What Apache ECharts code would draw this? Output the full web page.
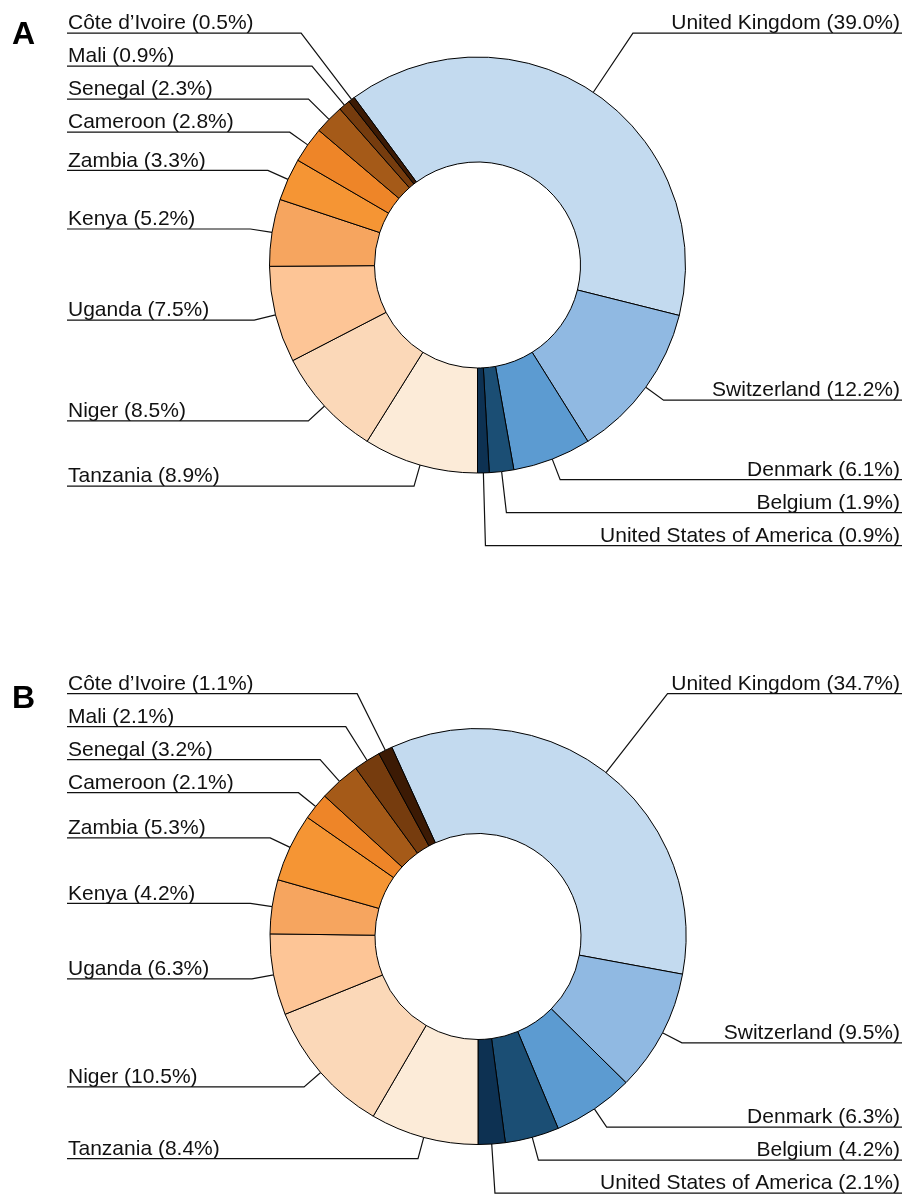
<!DOCTYPE html>
<html><head><meta charset="utf-8">
<script src="https://cdn.jsdelivr.net/npm/echarts@6/dist/echarts.min.js"></script>
<style>html,body{margin:0;padding:0;background:#fff}#c{width:904px;height:1204px}</style>
</head><body><div id="c"></div>
<script>
// Categories in clockwise order (first five: Europe / North America group)
const countries = ['United Kingdom', 'Switzerland', 'Denmark', 'Belgium', 'United States of America',
  'Tanzania', 'Niger', 'Uganda', 'Kenya', 'Zambia', 'Cameroon', 'Senegal', 'Mali', 'Côte d’Ivoire'];
const sharesA = [39.0, 12.2, 6.1, 1.9, 0.9, 8.9, 8.5, 7.5, 5.2, 3.3, 2.8, 2.3, 0.9, 0.5];
const sharesB = [34.7, 9.5, 6.3, 4.2, 2.1, 8.4, 10.5, 6.3, 4.2, 5.3, 2.1, 3.2, 2.1, 1.1];
const northGroupSize = 5;
const panelLetters = ['A', 'B'];
const sliceColors = ['#c3daef', '#90b9e2', '#5c9bd1', '#1b4e74', '#0d3152',
  '#fcebd8', '#fbd8b8', '#fdc596', '#f6a55f', '#f59534', '#ee8528', '#a55a18', '#763c0e', '#3c1a04'];

const FONT = '"Liberation Sans", Arial, Helvetica, sans-serif';
const R_IN = 103, R_OUT = 208;
const LEAD = 22;      // natural leader length
const GAP = 33;       // minimum vertical distance between label baselines
const LEFT_X = 68, RIGHT_X = 900;
const panels = [
  {values: sharesA, cx: 477.5, cy: 265},
  {values: sharesB, cx: 478, cy: 936.5}
];

const chart = echarts.init(document.getElementById('c'), null, {renderer: 'canvas'});

function startAngleOf(values) {
  const total = values.reduce((a, b) => a + b, 0);
  const groupShare = values.slice(0, northGroupSize).reduce((a, b) => a + b, 0) / total;
  // Europe / North America group ends at 6 o'clock
  return 90 + groupShare * 360 - 180;
}

// Label placement: radial leaders; crowded labels pushed away from the horizontal mid-line;
// the top labels of both sides share one baseline.
function placeLabels(p) {
  const values = p.values, total = values.reduce((a, b) => a + b, 0);
  const theta0 = 90 - startAngleOf(values);
  let acc = 0;
  const items = values.map((v, i) => {
    const mid = (theta0 + (acc + v / 2) / total * 360) * Math.PI / 180;
    acc += v;
    const dx = Math.sin(mid), dy = -Math.cos(mid);
    return {i, dx, dy, ny: p.cy + (R_OUT + LEAD) * dy, left: dx < 0};
  });
  const tops = [];
  [true, false].forEach(side => {
    const s = items.filter(it => it.left === side);
    const lower = s.filter(it => it.ny >= p.cy).sort((a, b) => a.ny - b.ny);
    const upper = s.filter(it => it.ny < p.cy).sort((a, b) => b.ny - a.ny);
    let prev = -Infinity;
    lower.forEach(it => { it.y = Math.max(it.ny, prev + GAP); prev = it.y; });
    prev = lower.length ? lower[0].y : Infinity;
    upper.forEach(it => { it.y = Math.min(it.ny, prev - GAP); prev = it.y; });
    if (upper.length) tops.push(upper[upper.length - 1]);
  });
  if (tops.length === 2) {
    const top = Math.min(tops[0].y, tops[1].y);
    tops.forEach(it => { it.y = top; });
  }
  return items;
}
const placed = panels.map(placeLabels);

function pieSeries(pi) {
  const p = panels[pi];
  return {
    type: 'pie',
    left: 0, top: 0, width: 904, height: 1204,
    center: [p.cx, p.cy],
    radius: [R_IN, R_OUT],
    clockwise: true,
    startAngle: startAngleOf(p.values),
    avoidLabelOverlap: false,
    animation: false,
    emphasis: {disabled: true},
    data: countries.map((n, i) => ({name: n, value: p.values[i], itemStyle: {color: sliceColors[i]}})),
    itemStyle: {borderColor: '#000', borderWidth: 1},
    label: {
      show: true, position: 'outer',
      formatter: q => q.name + ' (' + q.value.toFixed(1) + '%)',
      fontFamily: FONT, fontSize: 21, color: '#111', lineHeight: 19
    },
    labelLine: {show: true, length: LEAD, length2: 10, lineStyle: {color: '#111', width: 1.2}},
    labelLayout: function (params) {
      const it = placed[pi][params.dataIndex];
      const pts = params.labelLinePoints;
      const sx = pts ? pts[0][0] : p.cx + R_OUT * it.dx;
      const sy = pts ? pts[0][1] : p.cy + R_OUT * it.dy;
      let t = Math.abs(it.dy) > 0.05 ? (it.y - sy) / it.dy : LEAD;
      t = Math.max(t, 6);
      const ex = sx + it.dx * t;
      const endX = it.left ? LEFT_X - 1 : RIGHT_X + 2;
      return {
        x: it.left ? LEFT_X : RIGHT_X, y: it.y,
        align: it.left ? 'left' : 'right',
        verticalAlign: 'bottom',
        labelLinePoints: [[sx, sy], [ex, it.y], [endX, it.y]]
      };
    }
  };
}

chart.setOption({
  backgroundColor: '#fff',
  graphic: [
    {type: 'text', left: 12, top: 19, style: {text: panelLetters[0], font: 'bold 32px ' + FONT, fill: '#000'}},
    {type: 'text', left: 12, top: 683, style: {text: panelLetters[1], font: 'bold 32px ' + FONT, fill: '#000'}}
  ],
  series: [pieSeries(0), pieSeries(1)]
});
</script></body></html>
